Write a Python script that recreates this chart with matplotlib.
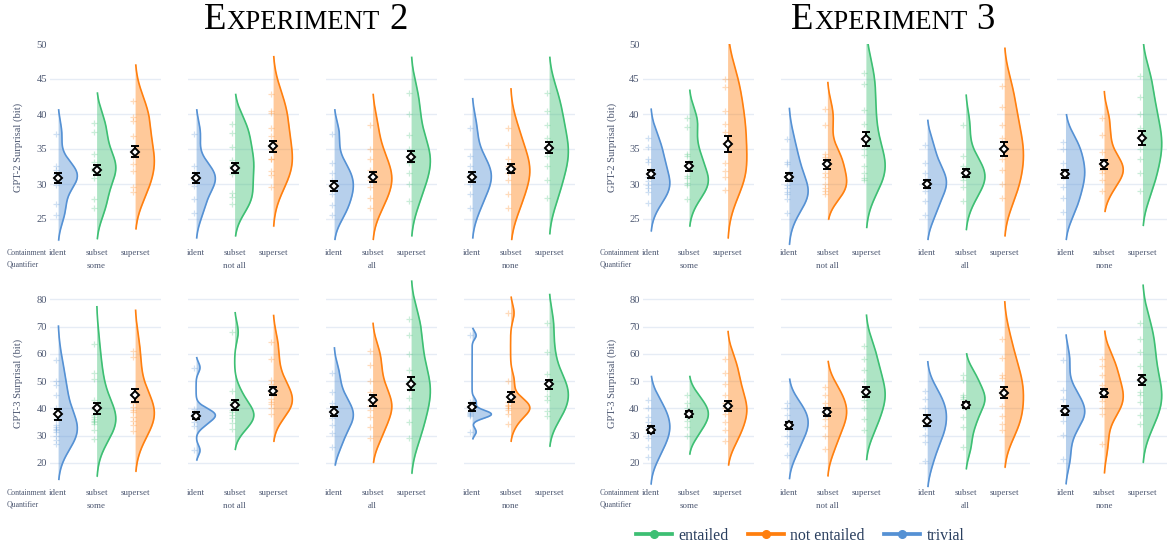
import numpy as np
import matplotlib
matplotlib.use("Agg")
import matplotlib.pyplot as plt
from matplotlib.lines import Line2D
from matplotlib.transforms import blended_transform_factory

SERIF = ["Liberation Serif", "DejaVu Serif"]
plt.rcParams["font.family"] = SERIF

W, H = 1167, 548

quantifiers = ["some", "not all", "all", "none"]
containments = ["ident", "subset", "superset"]
legend_labels = ["entailed", "not entailed", "trivial"]
colors = {"entailed": "#3dbf73", "not entailed": "#ff7f0e", "trivial": "#5591d4"}

# role of ident / subset / superset for each quantifier
e2_roles = [["trivial", "entailed", "not entailed"],
            ["trivial", "entailed", "not entailed"],
            ["trivial", "not entailed", "entailed"],
            ["trivial", "not entailed", "entailed"]]
e3_roles = [["trivial", "entailed", "not entailed"],
            ["trivial", "not entailed", "entailed"],
            ["trivial", "entailed", "not entailed"],
            ["trivial", "not entailed", "entailed"]]

# ---- Experiment 2, GPT-2 ----
e2_gpt2_pts = [
    [[25.5, 27.1, 29.8, 30.6, 31.0, 31.4, 32.0, 32.6, 37.2],
     [26.6, 27.8, 30.8, 31.8, 32.3, 33.1, 34.3, 37.5, 38.7],
     [28.8, 29.5, 31.9, 32.9, 33.8, 34.5, 36.9, 39.0, 39.6, 41.9]],
    [[25.9, 27.9, 29.7, 30.6, 31.0, 31.5, 32.6, 37.2],
     [27.1, 28.1, 28.7, 31.4, 32.6, 33.4, 35.3, 37.3, 38.6],
     [29.6, 31.3, 31.9, 33.5, 33.6, 35.0, 36.8, 38.0, 40.2, 40.5, 42.9]],
    [[25.6, 27.0, 28.5, 29.5, 30.5, 31.5, 33.0, 37.1],
     [26.5, 28.0, 29.5, 30.5, 31.0, 32.0, 33.5, 35.0, 38.5],
     [27.5, 30.0, 31.5, 33.0, 34.0, 35.0, 37.0, 40.0, 43.0]],
    [[26.5, 28.5, 30.0, 31.0, 31.5, 32.5, 34.0, 38.0],
     [26.5, 28.5, 30.5, 31.5, 32.5, 33.5, 35.5, 38.0],
     [28.0, 30.5, 32.5, 34.0, 35.0, 36.5, 38.5, 40.5, 43.0]],
]
e2_gpt2_span = [[(21.9, 40.7), (22.1, 43.1), (23.5, 47.1)],
                [(22.2, 40.7), (22.5, 42.9), (23.9, 48.3)],
                [(22.0, 40.7), (22.0, 42.9), (22.5, 48.2)],
                [(22.2, 42.3), (22.0, 43.7), (22.8, 48.2)]]
e2_gpt2_mean = [[30.8, 32.0, 34.6], [30.9, 32.3, 35.4], [29.7, 31.0, 33.9], [31.0, 32.2, 35.2]]
e2_gpt2_err = [[0.7, 0.7, 0.8], [0.7, 0.7, 0.8], [0.7, 0.7, 0.8], [0.7, 0.7, 0.8]]

# ---- Experiment 2, GPT-3 ----
e2_gpt3_pts = [
    [[26.9, 28.4, 30.0, 31.4, 32.0, 32.5, 33.2, 34.0, 36.0, 40.0, 44.8, 48.5, 50.1, 57.7],
     [28.8, 32.1, 34.2, 35.0, 35.5, 36.0, 36.7, 37.5, 39.8, 42.9, 50.8, 53.0, 63.6],
     [31.8, 34.0, 35.5, 36.7, 38.5, 39.5, 40.5, 42.0, 45.0, 58.7, 61.0]],
    [[24.6, 33.7, 35.0, 36.7, 37.5, 37.9, 38.2, 39.7, 55.0],
     [32.3, 34.5, 36.3, 37.5, 38.7, 39.5, 42.4, 46.3, 68.0],
     [38.1, 40.0, 41.5, 42.4, 43.5, 45.5, 49.1, 50.3, 58.3, 64.4]],
    [[26.0, 31.0, 34.0, 36.5, 38.0, 39.5, 42.0, 46.0, 53.0],
     [29.0, 33.0, 37.0, 39.5, 41.0, 43.0, 46.0, 50.0, 56.0, 61.0],
     [29.0, 35.0, 40.0, 44.0, 47.0, 50.0, 54.0, 60.0, 67.0, 73.0]],
    [[31.4, 37.2, 37.5, 37.9, 38.2, 38.5, 42.4, 66.8],
     [34.1, 37.9, 39.3, 40.3, 40.8, 41.3, 42.4, 50.1, 75.0],
     [37.1, 39.1, 43.0, 44.5, 47.0, 49.5, 52.5, 60.7, 71.3]],
]
e2_gpt3_span = [[(13.7, 70.5), (14.9, 77.6), (16.7, 76.3)],
                [(20.8, 58.9), (24.7, 75.4), (27.7, 74.4)],
                [(19.0, 62.5), (20.0, 71.5), (16.0, 87.0)],
                [(28.6, 69.6), (27.7, 81.1), (25.9, 82.1)]]
e2_gpt3_mean = [[37.9, 40.0, 44.8], [37.3, 41.2, 46.4], [38.8, 43.0, 49.0], [40.5, 44.2, 48.8]]
e2_gpt3_err = [[2.0, 2.0, 2.3], [1.2, 1.8, 1.6], [1.6, 2.0, 2.4], [1.5, 1.8, 1.8]]

# ---- Experiment 3, GPT-2 ----
e3_gpt2_pts = [
    [[27.3, 28.8, 29.4, 29.8, 30.4, 31.0, 33.2, 33.5, 35.3, 36.6],
     [27.8, 29.8, 30.1, 30.8, 31.2, 34.0, 34.3, 38.2, 39.5],
     [29.2, 31.0, 31.9, 33.0, 35.8, 37.5, 38.6, 40.5, 43.8, 45.0]],
    [[25.8, 27.8, 28.5, 28.9, 29.4, 29.8, 32.8, 33.2, 36.4],
     [28.6, 29.0, 29.4, 30.0, 31.0, 31.6, 33.4, 33.9, 34.3, 38.4, 40.7],
     [30.5, 30.8, 31.6, 32.5, 34.1, 35.0, 38.6, 40.6, 44.3, 45.9]],
    [[25.5, 27.5, 29.0, 30.0, 30.5, 31.5, 33.0, 35.5],
     [27.5, 29.5, 30.5, 31.0, 31.5, 32.5, 34.0, 38.5],
     [28.0, 30.0, 32.0, 33.5, 35.0, 36.5, 38.5, 41.0, 44.0]],
    [[26.0, 28.0, 29.5, 31.0, 32.0, 33.0, 35.0, 36.0],
     [29.0, 30.5, 31.5, 32.0, 32.5, 33.0, 34.5, 37.0, 39.5],
     [29.0, 31.5, 33.5, 35.0, 36.5, 38.0, 40.0, 42.5, 45.5]],
]
e3_gpt2_span = [[(23.2, 40.8), (23.9, 43.5), (22.2, 51.0)],
                [(21.3, 40.9), (24.9, 44.6), (23.7, 51.5)],
                [(22.0, 39.2), (23.4, 42.8), (22.5, 49.5)],
                [(22.0, 40.0), (26.0, 43.3), (24.0, 50.5)]]
e3_gpt2_mean = [[31.4, 32.5, 35.7], [31.0, 32.8, 36.4], [30.0, 31.6, 35.0], [31.4, 32.8, 36.6]]
e3_gpt2_err = [[0.6, 0.7, 1.1], [0.6, 0.6, 1.0], [0.6, 0.6, 1.0], [0.6, 0.6, 1.0]]

# ---- Experiment 3, GPT-3 ----
e3_gpt3_pts = [
    [[22.0, 26.0, 29.0, 31.0, 33.0, 35.0, 37.0, 40.0, 43.0],
     [30.0, 33.0, 35.5, 37.0, 38.5, 40.0, 42.0, 45.0],
     [28.0, 32.0, 35.0, 38.0, 40.0, 42.0, 45.0, 49.0, 53.0, 58.0]],
    [[23.0, 27.0, 30.0, 32.5, 34.0, 35.5, 37.5, 40.0, 42.0],
     [25.0, 30.0, 33.5, 36.0, 38.0, 40.0, 42.0, 45.0, 48.0],
     [32.0, 36.0, 40.0, 43.0, 45.0, 47.0, 50.0, 54.0, 58.0, 63.0]],
    [[20.8, 27.7, 30.2, 33.0, 36.0, 38.0, 40.3, 43.3, 46.4],
     [25.9, 33.2, 36.9, 40.5, 43.6, 44.2, 44.8, 50.3, 52.2],
     [32.0, 34.2, 37.1, 41.0, 44.8, 47.0, 51.0, 52.4, 58.6, 65.6]],
    [[21.6, 30.4, 35.4, 37.5, 38.7, 40.0, 43.6, 46.7, 57.9],
     [26.9, 38.1, 40.0, 42.7, 44.2, 45.5, 48.5, 52.2, 55.5, 58.3],
     [34.2, 37.5, 42.2, 44.8, 46.0, 50.0, 55.5, 60.7, 65.6, 71.3]],
]
e3_gpt3_span = [[(12.0, 52.0), (23.0, 52.0), (19.0, 68.5)],
                [(14.0, 51.0), (15.0, 57.5), (21.0, 74.5)],
                [(11.0, 57.4), (17.6, 60.3), (18.2, 79.4)],
                [(12.1, 67.2), (16.1, 68.6), (20.0, 85.5)]]
e3_gpt3_mean = [[32.2, 38.0, 41.0], [33.8, 38.7, 46.0], [35.4, 41.2, 45.7], [39.1, 45.7, 50.3]]
e3_gpt3_err = [[1.3, 1.2, 1.8], [1.3, 1.5, 1.8], [2.0, 1.2, 2.0], [1.6, 1.4, 1.8]]

# ---- layout (pixels) ----
CAT_PX = 38.5          # pixels between categories
PANEL_W = 111
XLIM = (-0.21, -0.21 + PANEL_W / CAT_PX)
HALF_W = 0.5
rows = [dict(top=44, bottom=245.6, ylim=(21.2, 50), ticks=[25, 30, 35, 40, 45, 50],
             label_y=253, quant_y=266, title_y=147),
        dict(top=279, bottom=487.4, ylim=(11, 87.5), ticks=[20, 30, 40, 50, 60, 70, 80],
             label_y=493, quant_y=506, title_y=383)]
exps = [dict(start=50, pitch=138, roles=e2_roles, ylab_x=18, cont_x=7,
             data=[(e2_gpt2_pts, e2_gpt2_span, e2_gpt2_mean, e2_gpt2_err),
                   (e2_gpt3_pts, e2_gpt3_span, e2_gpt3_mean, e2_gpt3_err)]),
        dict(start=642.5, pitch=138.3, roles=e3_roles, ylab_x=612, cont_x=600,
             data=[(e3_gpt2_pts, e3_gpt2_span, e3_gpt2_mean, e3_gpt2_err),
                   (e3_gpt3_pts, e3_gpt3_span, e3_gpt3_mean, e3_gpt3_err)])]
ylabels = ["GPT-2 Surprisal (bit)", "GPT-3 Surprisal (bit)"]

TEXT_C = "#4b5670"
GRID_C = "#e6ecf5"


def half_violin(ax, x0, pts, span, color):
    pts = np.asarray(pts, dtype=float)
    lo, hi = span
    bw = ((pts.min() - lo) + (hi - pts.max())) / 4.0
    grid = np.linspace(lo, hi, 300)
    dens = np.exp(-0.5 * ((grid[:, None] - pts[None, :]) / bw) ** 2).sum(axis=1)
    w = dens / dens.max() * HALF_W
    ax.fill_betweenx(grid, x0, x0 + w, color=color, alpha=0.42, lw=0)
    ax.plot(x0 + w, grid, color=color, lw=1.2, solid_capstyle="butt")
    ax.scatter(np.full(len(pts), x0 - 0.06), pts, marker="+", s=20, lw=0.9,
               color=color, alpha=0.28, zorder=3)


fig = plt.figure(figsize=(W / 100, H / 100), dpi=100)

for e in exps:
    for r, row in enumerate(rows):
        pts_all, spans, means, errs = e["data"][r]
        for q in range(4):
            left = e["start"] + q * e["pitch"]
            ax = fig.add_axes([left / W, 1 - row["bottom"] / H, PANEL_W / W,
                               (row["bottom"] - row["top"]) / H])
            ax.set_xlim(*XLIM)
            ax.set_ylim(*row["ylim"])
            for t in row["ticks"]:
                if row["ylim"][0] < t < row["ylim"][1]:
                    ax.axhline(t, color=GRID_C, lw=1.0, zorder=0)
            for s in ax.spines.values():
                s.set_visible(False)
            ax.set_xticks([])
            ax.set_yticks(row["ticks"])
            ax.tick_params(axis="y", length=0, pad=2, labelsize=7.6, labelcolor=TEXT_C)
            if q > 0:
                ax.set_yticklabels([])
            for c in range(3):
                col = colors[e["roles"][q][c]]
                half_violin(ax, c, pts_all[q][c], spans[q][c], col)
                ax.errorbar(c, means[q][c], yerr=errs[q][c], fmt="D", ms=4.2,
                            mfc="white", mec="black", mew=1.4, ecolor="black",
                            elinewidth=1.4, capsize=3, capthick=1.4, zorder=5)
            tr = blended_transform_factory(ax.transData, fig.transFigure)
            for c, name in enumerate(containments):
                ax.text(c, 1 - row["label_y"] / H, name, transform=tr, ha="center",
                        va="center", fontsize=6.4, color=TEXT_C)
            ax.text(1, 1 - row["quant_y"] / H, quantifiers[q], transform=tr,
                    ha="center", va="center", fontsize=6.4, color=TEXT_C)
        fig.text(e["cont_x"] / W, 1 - row["label_y"] / H, "Containment", ha="left",
                 va="center", fontsize=5.6, color=TEXT_C)
        fig.text(e["cont_x"] / W, 1 - (row["quant_y"] - 1) / H, "Quantifier", ha="left",
                 va="center", fontsize=5.6, color=TEXT_C)
        fig.text(e["ylab_x"] / W, 1 - row["title_y"] / H, ylabels[r], rotation=90,
                 ha="center", va="center", fontsize=7.6, color=TEXT_C)


def smallcaps_title(cx, base_y, first, rest, num):
    renderer = fig.canvas.get_renderer()
    parts = [(first, 26.5), (rest, 19.3), (num, 26.5)]
    gaps = [0, 0, 9]
    texts, widths = [], []
    for s, fs in parts:
        t = fig.text(0, 0, s, fontsize=fs, va="baseline", color="black")
        widths.append(t.get_window_extent(renderer).width)
        texts.append(t)
    total = sum(widths) + sum(gaps)
    x = cx - total / 2
    for t, w, g in zip(texts, widths, gaps):
        x += g
        t.set_position((x / W, 1 - base_y / H))
        x += w


smallcaps_title(306, 29, "E", "XPERIMENT", "2")
smallcaps_title(893, 29, "E", "XPERIMENT", "3")

handles = [Line2D([], [], color=colors[l], lw=2.7, marker="o", ms=5.5) for l in legend_labels]
fig.legend(handles, legend_labels, loc="center", bbox_to_anchor=(800 / W, 1 - 536 / H),
           ncol=3, frameon=False, fontsize=11.4, handlelength=2.3, handletextpad=0.4,
           columnspacing=1.2, labelcolor="#2a3f5f")

fig.savefig("out.png", dpi=100)
